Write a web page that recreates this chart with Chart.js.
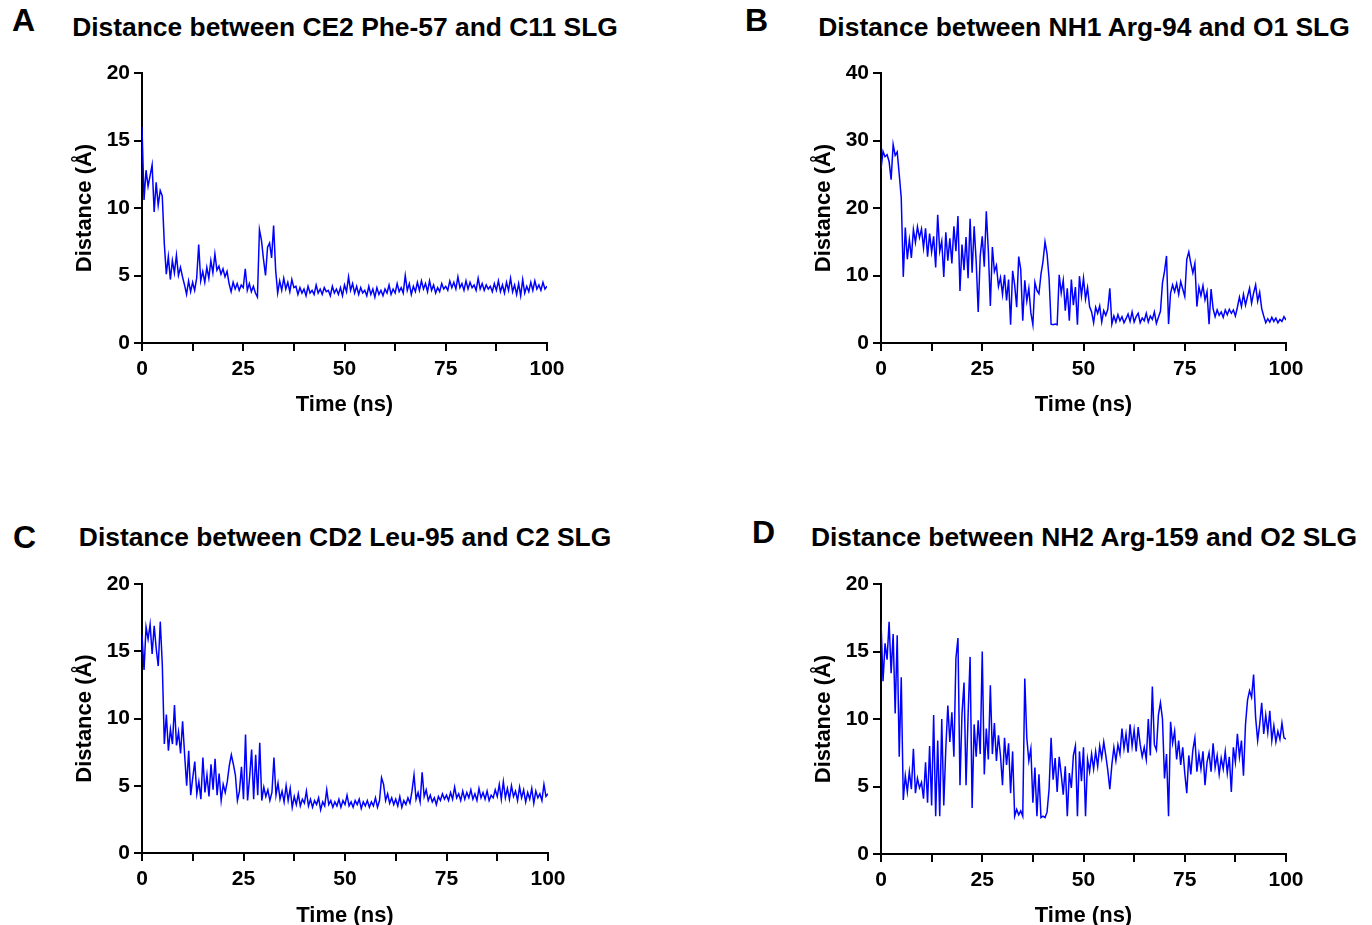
<!DOCTYPE html>
<html>
<head>
<meta charset="utf-8">
<script src="https://cdn.jsdelivr.net/npm/chart.js"></script>
<style>
  body {
    margin: 0;
    width: 1372px;
    height: 925px;
    position: relative;
    overflow: hidden;
    background: #fff;
    font-family: "Liberation Sans", Arial, sans-serif;
    color: #000;
  }
  .letter {
    position: absolute;
    font-weight: bold;
    font-size: 32px;
    line-height: 1;
  }
  .title {
    position: absolute;
    font-weight: bold;
    font-size: 26.4px;
    line-height: 1;
    white-space: nowrap;
    transform: translateX(-50%);
  }
  .box {
    position: absolute;
    width: 640px;
    height: 400px;
  }
</style>
</head>
<body>

<div class="letter" style="left:12px; top:4px;">A</div>
<div class="title" style="left:345px; top:14px;">Distance between CE2 Phe-57 and C11 SLG</div>
<div class="box" style="left:0px; top:40px;"><canvas id="chartA" width="640" height="400"></canvas></div>

<div class="letter" style="left:745px; top:4px;">B</div>
<div class="title" style="left:1084px; top:14px;">Distance between NH1 Arg-94 and O1 SLG</div>
<div class="box" style="left:739px; top:40px;"><canvas id="chartB" width="640" height="400"></canvas></div>

<div class="letter" style="left:13px; top:521px;">C</div>
<div class="title" style="left:345px; top:524px;">Distance between CD2 Leu-95 and C2 SLG</div>
<div class="box" style="left:0px; top:551px;"><canvas id="chartC" width="640" height="400"></canvas></div>

<div class="letter" style="left:752px; top:516px;">D</div>
<div class="title" style="left:1084px; top:524px;">Distance between NH2 Arg-159 and O2 SLG</div>
<div class="box" style="left:739px; top:551px;"><canvas id="chartD" width="640" height="400"></canvas></div>

<script>
// sampling interval of the traces (ns)
const timeStep = 0.5;

// CE2 Phe-57 - C11 SLG
const distA = [
  16.0, 10.6, 12.8, 11.6, 12.4, 13.2, 9.7, 11.9, 10.2, 11.3,
  10.9, 7.4, 5.1, 6.4, 4.7, 6.1, 5.2, 6.5, 5.0, 5.6,
  4.9, 4.3, 3.6, 4.6, 3.8, 4.5, 3.9, 4.8, 7.3, 4.6,
  5.3, 4.5, 5.6, 4.8, 6.1, 5.2, 6.6, 5.4, 5.7, 5.1,
  5.5, 4.9, 5.3, 4.4, 3.8, 4.5, 4.0, 4.4, 3.9, 4.3,
  4.1, 5.5, 3.9, 4.4, 3.8, 4.2, 3.7, 3.4, 8.4, 7.6,
  6.2, 5.0, 7.1, 7.4, 6.3, 8.7, 5.4, 3.7, 4.6, 3.9,
  4.8, 4.0, 4.5, 3.8, 4.7, 4.1, 4.2, 3.6, 4.1, 3.7,
  4.0, 3.5, 4.2, 3.7, 3.9, 3.6, 4.3, 3.7, 4.0, 3.6,
  4.1, 3.8, 3.9, 3.5, 4.2, 3.7, 4.0, 3.6, 4.1, 3.5,
  4.3, 3.8, 4.9, 3.9, 4.4, 3.7, 4.2, 3.6, 4.1, 3.7,
  3.9, 3.5, 4.2, 3.6, 4.0, 3.4, 4.1, 3.6, 3.9, 3.5,
  4.0, 3.7, 4.3, 3.6, 4.0, 3.7, 4.4, 3.8, 4.1, 3.7,
  5.0, 3.9, 4.4, 3.6, 4.2, 3.8, 4.5, 3.9, 4.6, 4.0,
  4.4, 3.8, 4.6, 3.9, 4.3, 3.7, 4.1, 3.8, 4.4, 4.0,
  4.2, 3.9, 4.6, 4.1, 4.5, 4.0, 4.9, 4.1, 4.4, 3.9,
  4.6, 4.0, 4.5, 4.1, 4.3, 3.9, 4.8, 4.0, 4.4, 3.9,
  4.3, 4.0, 4.2, 3.8, 4.4, 3.9, 4.6, 3.8, 4.3, 3.7,
  4.5, 3.9, 4.8, 3.8, 4.3, 3.6, 4.4, 3.5, 4.7, 3.7,
  4.2, 3.8, 4.5, 3.9, 4.6, 4.0, 4.3, 3.9, 4.5, 4.0,
  4.2
];

// NH1 Arg-94 - O1 SLG
const distB = [
  25.8, 28.4, 27.6, 27.9, 26.9, 24.2, 29.4, 27.8, 28.3, 25.0,
  21.5, 9.8, 17.1, 12.4, 15.3, 12.6, 16.8, 14.9, 17.2, 15.6,
  16.9, 14.1, 17.0, 12.8, 16.2, 13.5, 15.8, 11.2, 19.0, 13.6,
  15.1, 9.8, 16.4, 12.2, 15.5, 11.8, 17.3, 13.6, 18.8, 7.7,
  14.6, 10.8, 15.7, 9.6, 18.4, 10.4, 17.3, 12.1, 4.6, 12.9,
  15.8, 11.3, 19.5, 13.7, 5.5, 14.2, 10.6, 11.5, 8.4, 9.7,
  7.2, 10.1, 6.3, 9.4, 2.7, 10.7, 8.6, 5.3, 12.8, 10.9,
  3.3, 9.3, 6.2, 8.1, 4.5, 2.7, 9.0, 7.8, 7.3, 10.2,
  12.1, 15.0, 13.2, 9.6, 2.8, 2.7, 2.8, 2.7, 10.1, 7.4,
  9.3, 4.8, 8.1, 3.3, 9.4, 5.6, 8.3, 2.7, 9.9, 7.0,
  9.6, 6.5, 8.2, 5.4, 4.6, 3.0, 5.3, 4.4, 5.5, 3.1,
  4.8, 4.1, 5.0, 8.1, 2.8, 4.0, 3.1, 4.2, 3.3, 3.9,
  3.0, 3.6, 4.3, 3.2, 4.6, 3.1, 3.9, 4.4, 3.0, 3.7,
  3.3, 4.4, 3.1, 4.0, 3.5, 4.6, 2.9, 3.8, 4.7, 8.9,
  10.6, 12.9, 2.8, 7.4, 8.6, 7.6, 8.8, 7.2, 9.1, 8.0,
  6.9, 12.4, 13.5, 11.8, 10.4, 11.8, 5.4, 8.3, 7.0, 8.5,
  6.4, 7.6, 2.8, 8.0, 5.1, 3.9, 4.9, 4.1, 4.6, 3.8,
  4.9, 4.2, 5.0, 4.4, 4.9, 4.0, 5.3, 6.8, 5.4, 7.2,
  5.6, 6.9, 8.1, 5.9, 7.4, 8.6, 6.2, 7.5, 5.1, 4.0,
  3.0, 3.6, 3.1, 3.8, 3.2, 3.7, 3.0, 3.5, 3.2, 3.9,
  3.4
];

// CD2 Leu-95 - C2 SLG
const distC = [
  16.2, 13.6, 16.8, 15.9, 17.0, 14.8, 16.9, 15.2, 13.9, 17.2,
  14.0, 8.1, 10.3, 7.6, 9.2, 8.1, 11.0, 8.0, 9.0, 7.4,
  9.8, 7.3, 5.0, 7.6, 4.3, 5.6, 6.8, 4.4, 5.3, 4.0,
  7.1, 4.5, 5.8, 4.2, 6.6, 4.7, 7.0, 4.3, 5.9, 3.9,
  5.1, 4.5, 5.3, 6.5, 7.3, 6.6, 5.8, 3.9, 4.6, 6.4,
  4.0, 8.8, 3.9, 5.6, 7.7, 4.0, 7.3, 4.3, 8.2, 3.9,
  4.9, 4.2, 4.7, 3.9, 4.5, 7.1, 4.3, 5.2, 4.0, 4.6,
  3.8, 5.0, 3.9, 4.8, 3.4, 4.2, 3.6, 4.4, 3.5, 4.0,
  3.7, 4.6, 3.5, 4.0, 3.4, 3.9, 3.6, 4.1, 3.2, 3.8,
  3.5, 4.7, 3.6, 3.9, 3.4, 3.8, 3.5, 4.0, 3.4, 3.9,
  3.6, 4.3, 3.5, 3.8, 3.4, 3.9, 3.6, 4.0, 3.3, 3.8,
  3.5, 3.9, 3.4, 3.8, 3.5, 4.1, 3.4, 3.9, 5.6, 5.1,
  3.9, 4.4, 3.7, 4.1, 3.6, 4.0, 3.5, 4.2, 3.4, 3.9,
  3.6, 4.1, 3.7, 4.6, 5.8, 4.0, 4.5, 3.8, 6.0, 4.2,
  4.7, 3.9, 4.3, 3.8, 4.1, 3.6, 4.2, 3.9, 4.4, 4.0,
  4.3, 3.9, 4.5, 4.0, 4.9, 4.1, 4.4, 3.9, 4.6, 4.0,
  4.5, 4.1, 4.7, 4.0, 4.4, 3.9, 4.8, 4.1, 4.5, 4.0,
  4.6, 3.9, 4.3, 4.1, 4.7, 4.2, 5.1, 4.0, 5.3, 4.1,
  4.8, 4.0, 5.0, 4.2, 4.6, 3.9, 4.9, 4.1, 4.7, 3.8,
  4.5, 4.0, 4.8, 3.7, 4.6, 4.1, 4.4, 3.9, 5.1, 4.2,
  4.4
];

// NH2 Arg-159 - O2 SLG
const distD = [
  17.2, 12.8, 15.6, 14.4, 17.2, 13.4, 16.3, 10.4, 16.2, 7.2,
  13.1, 4.0, 5.8, 4.6, 6.1, 4.8, 7.8, 4.5, 5.6, 4.9,
  5.3, 4.1, 6.8, 3.8, 8.0, 3.6, 10.3, 2.8, 8.4, 2.8,
  10.0, 3.6, 7.8, 11.0, 8.3, 10.5, 7.2, 14.5, 16.0, 5.1,
  10.4, 12.7, 5.1, 10.2, 14.6, 3.4, 9.6, 7.2, 9.9, 7.4,
  15.0, 5.9, 9.3, 7.0, 12.5, 7.4, 9.7, 6.9, 8.8, 7.3,
  5.1, 8.6, 6.6, 8.2, 4.5, 7.6, 2.8, 3.3, 2.9, 3.2,
  2.8, 13.0, 8.6, 6.9, 7.8, 3.8, 6.4, 2.8, 5.9, 2.7,
  2.8, 2.7, 3.1, 4.8, 8.6, 5.5, 7.1, 4.6, 7.2, 5.9,
  4.4, 6.5, 2.8, 6.0, 4.9, 7.3, 8.0, 2.8, 7.6, 5.4,
  7.9, 2.8, 7.0, 6.1, 7.4, 6.3, 7.6, 6.5, 8.0, 7.1,
  8.3, 7.3, 6.2, 4.8, 6.6, 7.9, 6.9, 8.1, 7.4, 9.3,
  7.8, 8.9, 7.5, 9.6, 8.0, 9.2, 7.6, 9.4, 8.1, 7.2,
  7.9, 7.0, 10.0, 7.3, 12.4, 8.1, 7.7, 10.3, 11.2, 10.0,
  5.6, 7.4, 2.8, 9.8, 8.2, 9.1, 7.0, 8.4, 6.6, 7.9,
  6.0, 4.5, 7.3, 5.9, 7.7, 8.6, 6.1, 7.4, 6.3, 7.6,
  5.1, 6.8, 7.5, 6.1, 8.2, 6.4, 7.3, 5.9, 7.1, 6.3,
  7.6, 6.0, 7.2, 4.6, 7.9, 6.8, 8.9, 7.2, 8.4, 5.8,
  9.6, 11.4, 12.1, 11.6, 13.3, 10.1, 8.4, 9.6, 11.2, 8.9,
  10.3, 9.0, 10.6, 8.4, 9.5, 8.3, 9.1, 8.5, 9.7, 8.6,
  8.5
];

const xTitle = "Time (ns)";
const yTitle = "Distance (Å)";

const panels = [
  { id: "chartA", values: distA, yMax: 20, yStep: 5, right: 547, bottom: 303 },
  { id: "chartB", values: distB, yMax: 40, yStep: 10, right: 547, bottom: 303 },
  { id: "chartC", values: distC, yMax: 20, yStep: 5, right: 548, bottom: 302 },
  { id: "chartD", values: distD, yMax: 20, yStep: 5, right: 547, bottom: 303 }
];

const fontFamily = '"Liberation Sans", Arial, sans-serif';
const boxW = 640;
const boxH = 400;
const yAxisW = 142;
const padTop = 33;

function makePanel(p) {
  const points = p.values.map((v, i) => ({ x: i * timeStep, y: v }));
  const axisCommon = {
    border: { display: true, color: "#000", width: 2 },
    grid: {
      drawOnChartArea: false,
      drawTicks: true,
      tickLength: 8,
      color: "#000",
      lineWidth: 2
    }
  };

  new Chart(document.getElementById(p.id), {
    type: "line",
    data: {
      datasets: [
        {
          data: points,
          borderColor: "#0000ff",
          borderWidth: 1.5,
          pointRadius: 0,
          tension: 0,
          fill: false
        }
      ]
    },
    options: {
      responsive: false,
      animation: false,
      events: [],
      layout: { padding: { left: 0, top: padTop, right: boxW - p.right, bottom: 0 } },
      plugins: { legend: { display: false }, tooltip: { enabled: false } },
      scales: {
        x: {
          ...axisCommon,
          type: "linear",
          min: 0,
          max: 100,
          afterFit: scale => { scale.height = boxH - p.bottom; },
          ticks: {
            stepSize: 12.5,
            autoSkip: false,
            maxRotation: 0,
            padding: 6,
            color: "#000",
            font: { family: fontFamily, size: 21, weight: "bold" },
            callback: v => (v % 25 === 0 ? v : "")
          },
          title: {
            display: true,
            text: xTitle,
            color: "#000",
            padding: { top: 0, bottom: 22 },
            font: { family: fontFamily, size: 22, weight: "bold" }
          }
        },
        y: {
          ...axisCommon,
          min: 0,
          max: p.yMax,
          afterFit: scale => { scale.width = yAxisW; },
          ticks: {
            stepSize: p.yStep,
            padding: 4,
            color: "#000",
            font: { family: fontFamily, size: 21, weight: "bold" }
          },
          title: {
            display: true,
            text: yTitle,
            color: "#000",
            padding: { top: 72, bottom: 0 },
            font: { family: fontFamily, size: 22, weight: "bold" }
          }
        }
      }
    }
  });
}

panels.forEach(makePanel);
</script>
</body>
</html>
